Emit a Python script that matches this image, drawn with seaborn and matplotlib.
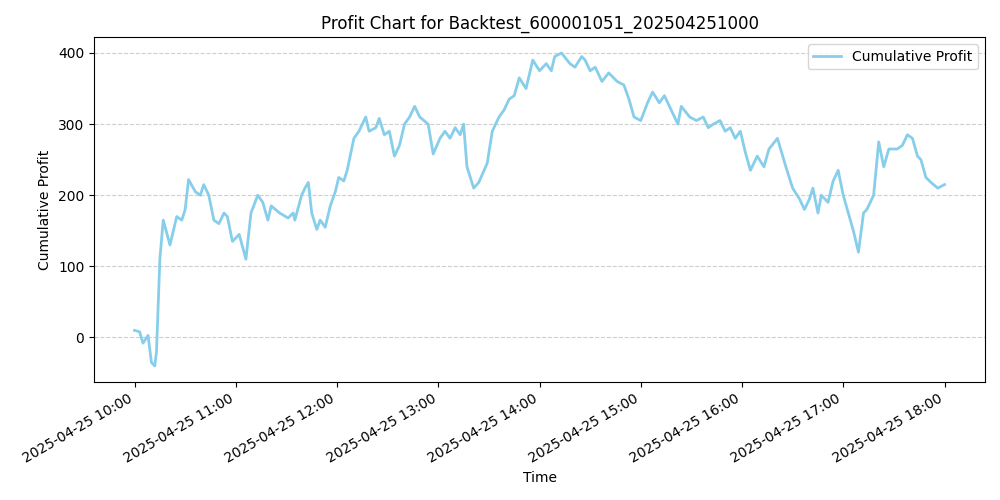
import matplotlib
matplotlib.use("Agg")
import matplotlib.pyplot as plt
import matplotlib.dates as mdates
import numpy as np
import pandas as pd
import seaborn as sns

start_time = "2025-04-25 10:00"
minutes = [0, 3, 5, 8, 10, 12, 13, 15, 17, 21, 25, 28, 30, 32, 36, 39, 41, 44, 47, 50,
           53, 55, 58, 62, 66, 69, 73, 76, 79, 81, 86, 91, 94, 95, 99, 101, 103, 105, 108, 110,
           113, 116, 119, 121, 124, 126, 130, 133, 137, 139, 143, 145, 148, 151, 154, 157, 160, 163, 166, 169,
           174, 177, 181, 184, 187, 190, 193, 195, 197, 201, 204, 209, 212, 216, 219, 222, 225, 228, 232, 236,
           240, 244, 247, 249, 253, 258, 261, 265, 267, 270, 273, 277, 281, 286, 290, 293, 296, 300, 304, 307,
           311, 314, 318, 322, 324, 329, 333, 337, 340, 343, 347, 350, 353, 356, 359, 362, 365, 369, 373, 376,
           381, 386, 390, 394, 397, 400, 402, 405, 407, 411, 414, 417, 420, 423, 426, 429, 432, 434, 438, 441,
           444, 447, 452, 455, 458, 461, 464, 466, 469, 472, 476, 480]
profit = [10, 8, -8, 3, -35, -40, -20, 110, 165, 130, 170, 165, 180, 222, 205, 200, 215, 200, 165, 160,
          175, 170, 135, 145, 110, 175, 200, 190, 165, 185, 175, 168, 175, 165, 200, 210, 218, 175, 152, 165,
          155, 185, 205, 225, 220, 235, 280, 290, 310, 290, 295, 308, 285, 290, 255, 270, 300, 310, 325, 310,
          300, 258, 280, 290, 280, 295, 285, 300, 240, 210, 218, 245, 290, 310, 320, 335, 340, 365, 350, 390,
          375, 385, 375, 395, 400, 385, 380, 395, 390, 375, 380, 360, 372, 360, 355, 335, 310, 305, 330, 345,
          330, 340, 320, 300, 325, 310, 305, 310, 295, 300, 305, 290, 295, 280, 290, 260, 235, 255, 240, 265,
          280, 240, 210, 195, 180, 195, 210, 175, 200, 190, 220, 235, 200, 175, 150, 120, 175, 180, 200, 275,
          240, 265, 265, 270, 285, 280, 255, 250, 225, 218, 210, 215]

df = pd.DataFrame({"Time": pd.Timestamp(start_time) + pd.to_timedelta(minutes, unit="m"),
                   "Cumulative Profit": profit})

fig, ax = plt.subplots(figsize=(10, 5), dpi=100)
sns.lineplot(data=df, x="Time", y="Cumulative Profit", ax=ax, color="skyblue",
             linewidth=2, label="Cumulative Profit")
ax.set_title("Profit Chart for Backtest_600001051_202504251000")
ax.set_xlabel("Time")
ax.set_ylabel("Cumulative Profit")
ax.grid(axis="y", linestyle="--", alpha=0.6)
ax.xaxis.set_major_locator(mdates.HourLocator())
ax.xaxis.set_major_formatter(mdates.DateFormatter("%Y-%m-%d %H:%M"))
ax.legend(loc="upper right")
fig.autofmt_xdate()
fig.tight_layout()
fig.savefig("out.png")
